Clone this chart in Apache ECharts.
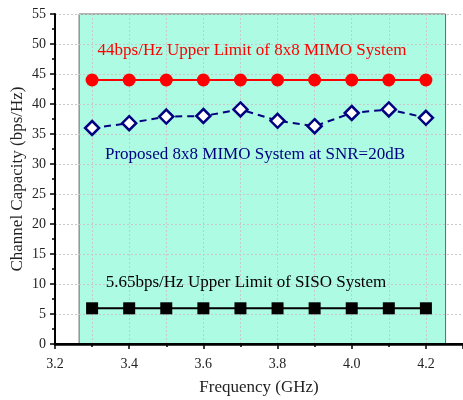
<!DOCTYPE html>
<html>
<head>
<meta charset="utf-8">
<script src="https://cdn.jsdelivr.net/npm/echarts@6/dist/echarts.min.js"></script>
<style>html,body{margin:0;padding:0;background:#fff;}#c{width:463px;height:400px;}</style>
</head>
<body>
<div id="c"></div>
<script>
var freq = [3.3, 3.4, 3.5, 3.6, 3.7, 3.8, 3.9, 4.0, 4.1, 4.2];
var mimoLimit = [44, 44, 44, 44, 44, 44, 44, 44, 44, 44];
var proposed = [36.0, 36.8, 37.9, 38.0, 39.1, 37.2, 36.3, 38.5, 39.1, 37.7];
var sisoLimit = [5.95, 5.95, 5.95, 5.95, 5.95, 5.95, 5.95, 5.95, 5.95, 5.95];
var bandRange = [3.265, 4.253];
var xTitle = 'Frequency (GHz)';
var yTitle = 'Channel Capacity (bps/Hz)';
var noteMimo = '44bps/Hz Upper Limit of 8x8 MIMO System';
var noteProposed = 'Proposed 8x8 MIMO System at SNR=20dB';
var noteSiso = '5.65bps/Hz Upper Limit of SISO System';

function pairs(xs, ys) { return xs.map(function (x, i) { return [x, ys[i]]; }); }

var FONT = '"Liberation Serif", "Times New Roman", serif';
var chart = echarts.init(document.getElementById('c'), null, { renderer: 'canvas' });

var gridLine = { show: true, lineStyle: { color: '#c8c8c8', type: [2, 2], width: 1 } };

chart.setOption({
  animation: false,
  backgroundColor: '#fff',
  grid: { left: 55, top: 14, width: 409.75, height: 330, containLabel: false },
  xAxis: [{
    type: 'value', min: 3.2, max: 4.3, interval: 0.2, z: 2,
    axisLine: { show: true, onZero: false, lineStyle: { color: '#000', width: 2 } },
    axisTick: { show: true, length: 5, lineStyle: { color: '#000', width: 1.5 } },
    minorTick: { show: true, splitNumber: 2, length: 3, lineStyle: { color: '#000', width: 1.5 } },
    splitLine: gridLine,
    minorSplitLine: gridLine,
    axisLabel: { color: '#222', fontFamily: FONT, fontSize: 14, margin: 13, showMaxLabel: false,
      formatter: function (v) { return v.toFixed(1); } }
  }, {
    type: 'value', position: 'top', min: 3.2, max: 4.3, z: 2,
    axisLine: { show: true, lineStyle: { color: '#000', width: 2.5 } },
    axisTick: { show: false }, axisLabel: { show: false }, splitLine: { show: false }
  }],
  yAxis: {
    type: 'value', min: 0, max: 55, interval: 5, z: 2,
    axisLine: { show: true, onZero: false, lineStyle: { color: '#000', width: 2 } },
    axisTick: { show: true, length: 5, lineStyle: { color: '#000', width: 1.5 } },
    minorTick: { show: true, splitNumber: 2, length: 3, lineStyle: { color: '#000', width: 1.5 } },
    splitLine: gridLine,
    axisLabel: { color: '#222', fontFamily: FONT, fontSize: 14, margin: 9 }
  },
  series: [{
    type: 'line', z: 1, silent: true,
    data: pairs(freq, mimoLimit), symbol: 'none',
    lineStyle: { opacity: 0 },
    markArea: {
      silent: true,
      itemStyle: { color: '#adfbe3', borderColor: '#666', borderWidth: 1 },
      data: [[{ xAxis: bandRange[0] }, { xAxis: bandRange[1] }]]
    }
  }, {
    type: 'line', z: 3, name: 'mimo',
    data: pairs(freq, mimoLimit),
    symbol: 'circle', symbolSize: 13,
    itemStyle: { color: '#ff0000' },
    lineStyle: { color: '#ff0000', width: 2 }
  }, {
    type: 'line', z: 3, name: 'proposed',
    data: pairs(freq, proposed),
    symbol: 'diamond', symbolSize: 14,
    itemStyle: { color: '#fff', borderColor: '#000080', borderWidth: 2.5 },
    lineStyle: { color: '#000080', width: 2, type: [7, 5] }
  }, {
    type: 'line', z: 3, name: 'siso',
    data: pairs(freq, sisoLimit),
    symbol: 'rect', symbolSize: 12,
    itemStyle: { color: '#000' },
    lineStyle: { color: '#000', width: 2 }
  }],
  graphic: [
    { type: 'text', x: 259, y: 388, style: { text: xTitle, font: '17px ' + FONT, fill: '#222', align: 'center', verticalAlign: 'middle' } },
    { type: 'text', x: 18, y: 179, rotation: Math.PI / 2, style: { text: yTitle, font: '17px ' + FONT, fill: '#222', align: 'center', verticalAlign: 'middle' } },
    { type: 'text', x: 252, y: 51, z: 10, style: { text: noteMimo, font: '17px ' + FONT, fill: '#ff0000', align: 'center', verticalAlign: 'middle' } },
    { type: 'text', x: 255, y: 155, z: 10, style: { text: noteProposed, font: '17px ' + FONT, fill: '#000080', align: 'center', verticalAlign: 'middle' } },
    { type: 'text', x: 246, y: 283, z: 10, style: { text: noteSiso, font: '17px ' + FONT, fill: '#000', align: 'center', verticalAlign: 'middle' } }
  ]
});
</script>
</body>
</html>
